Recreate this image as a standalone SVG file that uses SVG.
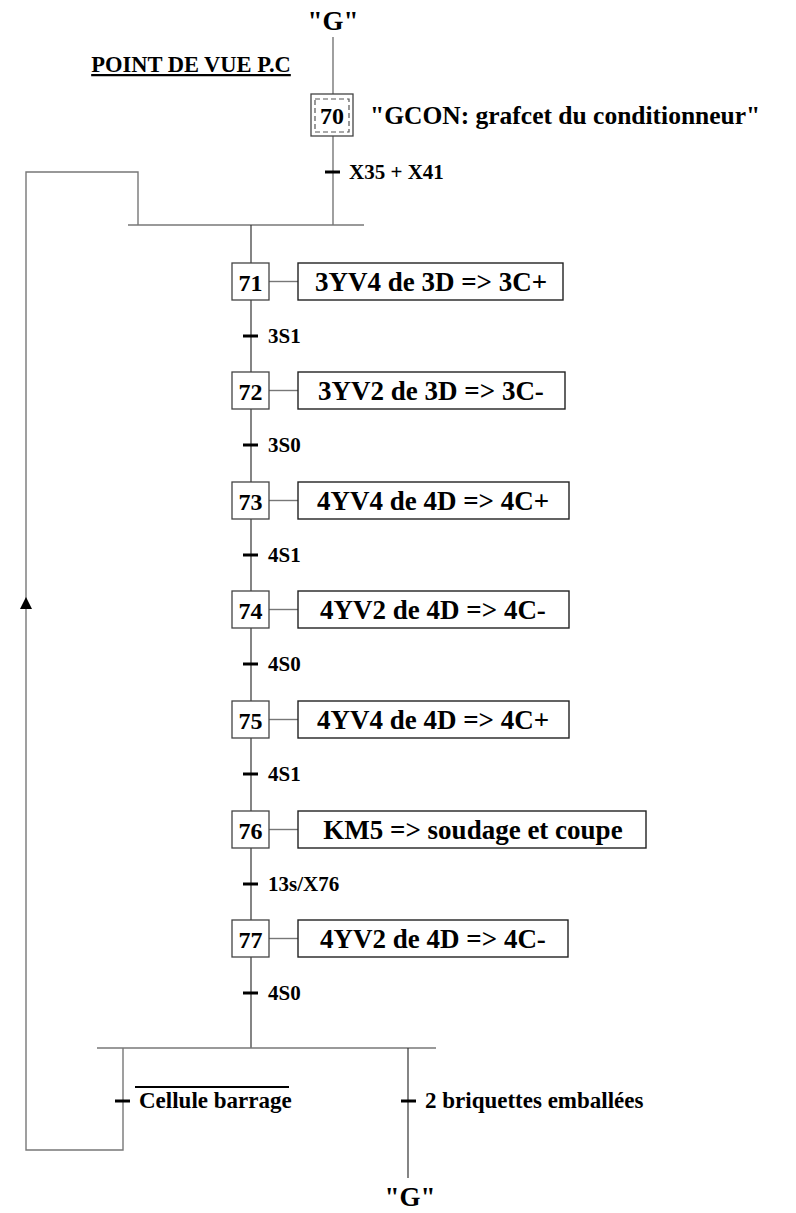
<svg xmlns="http://www.w3.org/2000/svg" width="796" height="1213" viewBox="0 0 796 1213">
<style>
text{font-family:"Liberation Serif","Times New Roman",serif;font-weight:bold;fill:#000}
.step{fill:#fff;stroke:#444;stroke-width:1.3}
.act{fill:#fff;stroke:#222;stroke-width:1.4}
.num{font-size:24px;text-anchor:middle}
.atx{font-size:27px;text-anchor:middle}
.tl{font-size:21px}
.bl{font-size:23px}
.ln{stroke:#777;stroke-width:1.4;fill:none}
.vl{stroke:#333;stroke-width:1.2;fill:none}
.tick{stroke:#000;stroke-width:3}
.g{font-size:27px;text-anchor:middle}
</style>
<text x="191" y="72" font-size="22.5" text-anchor="middle" text-decoration="underline">POINT DE VUE P.C</text>
<text class="g" x="333" y="30">"G"</text>
<g id="connectors">
<line class="ln" x1="333" y1="37" x2="333" y2="94"/>
<line class="ln" x1="333" y1="136" x2="333" y2="225"/>
<line class="tick" x1="325" y1="172" x2="340" y2="172"/>
<line class="ln" x1="128" y1="225" x2="364" y2="225"/>
<polyline class="ln" points="138,225 138,172 26,172 26,1150 123,1150 123,1048"/>
<path d="M26,597 L20,609 L32,609 Z" fill="#000"/>
<line class="vl" x1="251" y1="225" x2="251" y2="263"/>
<line class="vl" x1="251" y1="300" x2="251" y2="372"/>
<line class="vl" x1="251" y1="409" x2="251" y2="482"/>
<line class="vl" x1="251" y1="519" x2="251" y2="591"/>
<line class="vl" x1="251" y1="628" x2="251" y2="701"/>
<line class="vl" x1="251" y1="738" x2="251" y2="811"/>
<line class="vl" x1="251" y1="848" x2="251" y2="920"/>
<line class="vl" x1="251" y1="957" x2="251" y2="1048"/>
<line class="tick" x1="243" y1="336" x2="258" y2="336"/>
<line class="tick" x1="243" y1="445" x2="258" y2="445"/>
<line class="tick" x1="243" y1="555" x2="258" y2="555"/>
<line class="tick" x1="243" y1="664" x2="258" y2="664"/>
<line class="tick" x1="243" y1="774" x2="258" y2="774"/>
<line class="tick" x1="243" y1="884" x2="258" y2="884"/>
<line class="tick" x1="243" y1="993" x2="258" y2="993"/>
<line class="ln" x1="97" y1="1048" x2="436" y2="1048"/>
<line class="tick" x1="115" y1="1101" x2="130" y2="1101"/>
<line class="vl" x1="408" y1="1048" x2="408" y2="1178"/>
<line class="tick" x1="401" y1="1101" x2="416" y2="1101"/>
<line class="ln" x1="269" y1="281.5" x2="298" y2="281.5"/>
<line class="ln" x1="269" y1="390.5" x2="298" y2="390.5"/>
<line class="ln" x1="269" y1="500.5" x2="298" y2="500.5"/>
<line class="ln" x1="269" y1="609.5" x2="298" y2="609.5"/>
<line class="ln" x1="269" y1="719.5" x2="298" y2="719.5"/>
<line class="ln" x1="269" y1="829.5" x2="298" y2="829.5"/>
<line class="ln" x1="269" y1="938.5" x2="298" y2="938.5"/>
</g>
<g id="labels">
<text class="tl" x="349" y="179" font-size="22">X35 + X41</text>
<text class="tl" x="268" y="343">3S1</text>
<text class="tl" x="268" y="452">3S0</text>
<text class="tl" x="268" y="562">4S1</text>
<text class="tl" x="268" y="671">4S0</text>
<text class="tl" x="268" y="781">4S1</text>
<text class="tl" x="268" y="891">13s/X76</text>
<text class="tl" x="268" y="1000">4S0</text>
<text class="bl" x="139" y="1108">Cellule barrage</text>
<line x1="135" y1="1087" x2="289" y2="1087" stroke="#000" stroke-width="2"/>
<text class="bl" x="425" y="1108">2 briquettes emballées</text>
<text class="g" x="410" y="1206">"G"</text>
</g>
<g id="step70">
<rect class="step" x="311" y="94" width="42" height="42"/>
<rect x="315" y="99" width="34" height="33" fill="none" stroke="#555" stroke-width="1.2" stroke-dasharray="5,3"/>
<text class="num" x="332" y="124">70</text>
<text x="370" y="124" font-size="25.5">"GCON: grafcet du conditionneur"</text>
</g>
<g id="step71">
<rect class="step" x="232" y="263" width="37" height="37"/>
<text class="num" x="250.5" y="291">71</text>
<rect class="act" x="298" y="263" width="265" height="37"/>
<text class="atx" x="431" y="291">3YV4 de 3D =&gt; 3C+</text>
</g>
<g id="step72">
<rect class="step" x="232" y="372" width="37" height="37"/>
<text class="num" x="250.5" y="400">72</text>
<rect class="act" x="298" y="372" width="267" height="37"/>
<text class="atx" x="431" y="400">3YV2 de 3D =&gt; 3C-</text>
</g>
<g id="step73">
<rect class="step" x="232" y="482" width="37" height="37"/>
<text class="num" x="250.5" y="510">73</text>
<rect class="act" x="298" y="482" width="271" height="37"/>
<text class="atx" x="433" y="510">4YV4 de 4D =&gt; 4C+</text>
</g>
<g id="step74">
<rect class="step" x="232" y="591" width="37" height="37"/>
<text class="num" x="250.5" y="619">74</text>
<rect class="act" x="298" y="591" width="271" height="37"/>
<text class="atx" x="433" y="619">4YV2 de 4D =&gt; 4C-</text>
</g>
<g id="step75">
<rect class="step" x="232" y="701" width="37" height="37"/>
<text class="num" x="250.5" y="729">75</text>
<rect class="act" x="298" y="701" width="271" height="37"/>
<text class="atx" x="433" y="729">4YV4 de 4D =&gt; 4C+</text>
</g>
<g id="step76">
<rect class="step" x="232" y="811" width="37" height="37"/>
<text class="num" x="250.5" y="839">76</text>
<rect class="act" x="298" y="811" width="348" height="37"/>
<text class="atx" x="473" y="839">KM5 =&gt; soudage et coupe</text>
</g>
<g id="step77">
<rect class="step" x="232" y="920" width="37" height="37"/>
<text class="num" x="250.5" y="948">77</text>
<rect class="act" x="298" y="920" width="270" height="37"/>
<text class="atx" x="433" y="948">4YV2 de 4D =&gt; 4C-</text>
</g>
</svg>
